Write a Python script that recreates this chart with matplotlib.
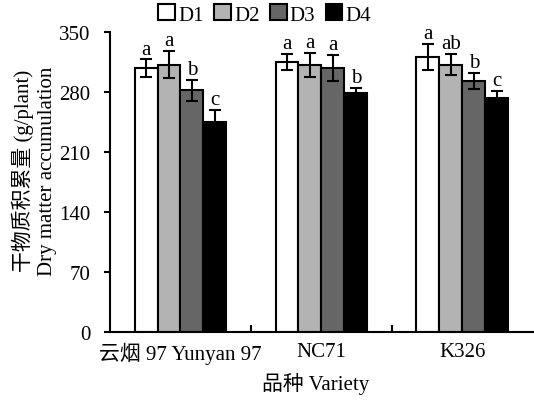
import matplotlib.pyplot as plt
import numpy as np

plt.rcParams['font.family'] = ['Liberation Serif', 'Noto Sans CJK SC']
plt.rcParams['font.size'] = 15

varieties = ['云烟 97 Yunyan 97', 'NC71', 'K326']
treatments = ['D1', 'D2', 'D3', 'D4']
colors = ['white', '#b3b3b3', '#666666', 'black']

# dry matter (g/plant), rows = treatments, cols = varieties
means = [
    [308, 315, 321],
    [312, 312, 312],
    [282, 308, 293],
    [245, 279, 273],
]
errs = [
    [10, 9, 15],
    [16, 14, 12],
    [12, 15, 9],
    [14, 6, 8],
]
letters = [
    ['a', 'a', 'a'],
    ['a', 'a', 'ab'],
    ['b', 'a', 'b'],
    ['c', 'b', 'c'],
]

fig = plt.figure(figsize=(5.34, 4.02), dpi=100)
ax = fig.add_axes([0.206, 0.172, 0.792, 0.746])

x = np.arange(len(varieties))
w = 0.163
for i, t in enumerate(treatments):
    pos = x + (i - 1.5) * w
    ax.bar(pos, means[i], w, color=colors[i], edgecolor='black',
           linewidth=1.5, label=t, zorder=2)
    ax.errorbar(pos, means[i], yerr=errs[i], fmt='none', ecolor='black',
                elinewidth=1.5, capsize=4, capthick=1.5, zorder=3)
    for p, m, e, s in zip(pos, means[i], errs[i], letters[i]):
        ax.text(p, m + e + 1, s, ha='center', va='bottom', fontsize=15)

ax.set_xlim(-0.5, 2.5)
ax.set_ylim(0, 350)
ax.set_yticks(range(0, 351, 70))
ax.set_xticks(x)
ax.set_xticklabels(varieties)
ax.tick_params(axis='x', length=0, pad=7)
ax.set_xticks([0.5, 1.5], minor=True)
ax.tick_params(axis='x', which='minor', direction='in', length=5, width=1.5)
ax.tick_params(axis='y', direction='out', length=4, width=1.5, pad=10)
for s in ['top', 'right']:
    ax.spines[s].set_visible(False)
for s in ['left', 'bottom']:
    ax.spines[s].set_linewidth(1.5)

ax.set_xlabel('品种 Variety')
ax.xaxis.set_label_coords(0.487, -0.135)
ax.set_ylabel('干物质积累量 (g/plant)\nDry matter accumulation',
              linespacing=1.3)
ax.yaxis.set_label_coords(-0.125, 0.54)

ax.legend(loc='lower center', bbox_to_anchor=(0.366, 0.99), ncol=4,
          frameon=False, handlelength=0.8, handleheight=0.8,
          handletextpad=0.15, columnspacing=0.5, borderpad=0)

fig.savefig('out.png', dpi=100)
